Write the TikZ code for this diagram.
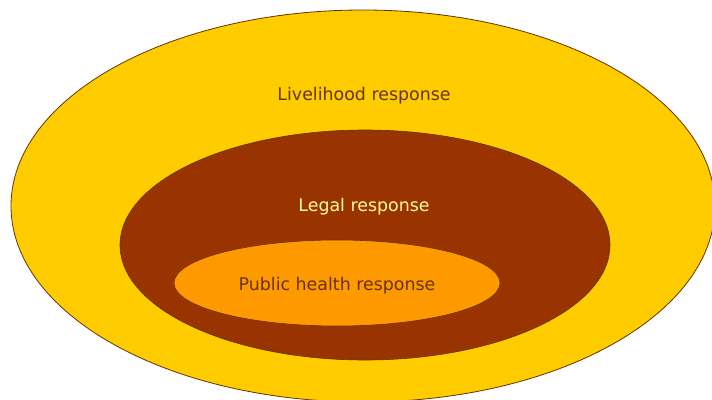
\documentclass[tikz,border=0pt]{standalone}
\usepackage{fontspec}
\setmainfont{DejaVu Sans}
\usepackage{tikz}
\definecolor{livelihoodgold}{RGB}{255,204,0}
\definecolor{legalbrown}{RGB}{153,51,0}
\definecolor{healthorange}{RGB}{255,153,0}
\definecolor{rimbrown}{RGB}{102,51,0}
\definecolor{paleyellow}{RGB}{255,255,153}

\begin{document}
\begin{tikzpicture}[x=1pt,y=-1pt]
                \useasboundingbox (0,0) rectangle (712,399);
                \clip (0,0) rectangle (712,399);
                % outer ring
                \draw[rimbrown,fill=livelihoodgold,line width=0.8pt] (363,206) ellipse (352 and 196);
                \node[rimbrown,font=\fontsize{17.4}{20}\selectfont] (livelihood) at (364,96) {Livelihood response};
                % middle ring
                \draw[rimbrown,fill=legalbrown,line width=0.6pt] (365,245) ellipse (245 and 115);
                \node[paleyellow,font=\fontsize{17.4}{20}\selectfont] (legal) at (364,207) {Legal response};
                % inner ring
                \draw[rimbrown,fill=healthorange,line width=0.6pt] (337,283) ellipse (163 and 43);
                \node[rimbrown,font=\fontsize{17.4}{20}\selectfont] (health) at (337,286) {Public health response};
            \end{tikzpicture}
\end{document}
